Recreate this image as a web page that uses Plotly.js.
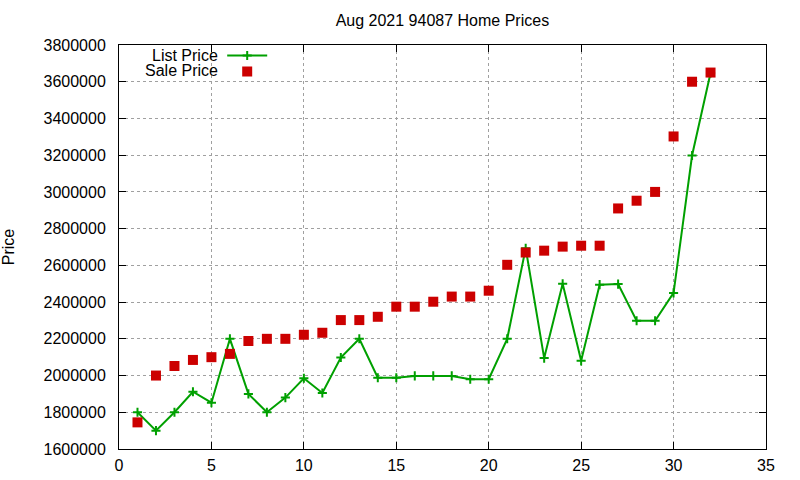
<!DOCTYPE html>
<html>
<head>
<meta charset="utf-8">
<script src="https://cdn.plot.ly/plotly-3.0.1.min.js"></script>
<style>
  body { margin: 0; background: #fff; }
  #chart { width: 800px; height: 480px; }
</style>
</head>
<body>
<div id="chart"></div>
<script>
// house number (sorted by sale price)
var houseIdx = [1, 2, 3, 4, 5, 6, 7, 8, 9, 10, 11, 12, 13, 14, 15, 16,
                17, 18, 19, 20, 21, 22, 23, 24, 25, 26, 27, 28, 29, 30, 31, 32];

var listPrice = [1800000, 1700000, 1800000, 1912000, 1852000, 2200000, 1900000, 1800000,
                 1880000, 1985000, 1905000, 2098000, 2200000, 1988000, 1988000, 1998000,
                 1998000, 1998000, 1980000, 1980000, 2200000, 2693000, 2095000, 2500000,
                 2080000, 2495000, 2498000, 2298000, 2298000, 2450000, 3198000, 3648000];

var salePrice = [1745000, 2000000, 2052000, 2085000, 2100000, 2118000, 2188000, 2200000,
                 2200000, 2222000, 2233000, 2302000, 2302000, 2320000, 2375000, 2375000,
                 2402000, 2430000, 2430000, 2462000, 2603000, 2670000, 2680000, 2702000,
                 2707000, 2707000, 2910000, 2952000, 3000000, 3302000, 3600000, 3650000];

var green = '#00a000';
var red = '#cc0000';
var fontFam = 'Liberation Sans, Arial, sans-serif';

var traceList = {
  x: houseIdx,
  y: listPrice,
  name: ' ',
  legend: 'legend',
  type: 'scatter',
  mode: 'lines+markers',
  line: {color: green, width: 2},
  marker: {symbol: 'cross-thin', size: 6.5, line: {color: green, width: 2}}
};

var traceSale = {
  x: houseIdx,
  y: salePrice,
  name: ' ',
  legend: 'legend2',
  type: 'scatter',
  mode: 'markers',
  marker: {symbol: 'square', size: 10, color: red}
};

var axisCommon = {
  showline: true,
  linecolor: '#000',
  linewidth: 1,
  mirror: 'ticks',
  ticks: 'inside',
  ticklen: 7,
  tickcolor: '#000',
  showgrid: true,
  gridcolor: '#a0a0a0',
  griddash: 'dot',
  gridwidth: 1,
  zeroline: false,
  tickfont: {family: fontFam, size: 16, color: '#000'}
};

var legendCommon = {
  xanchor: 'left', yanchor: 'top',
  bgcolor: 'rgba(0,0,0,0)',
  font: {family: fontFam, size: 12},
  itemwidth: 40
};

// key labels sit left of the samples, gnuplot style
var keyFont = {family: fontFam, size: 16, color: '#000'};

var layout = {
  width: 800,
  height: 480,
  margin: {l: 119, r: 34, t: 45, b: 31},
  paper_bgcolor: '#fff',
  plot_bgcolor: '#fff',
  font: {family: fontFam, size: 16, color: '#000'},
  title: {
    text: 'Aug 2021 94087 Home Prices',
    font: {family: fontFam, size: 16, color: '#000'},
    x: 0.553, xanchor: 'center',
    y: 0.958, yanchor: 'middle'
  },
  xaxis: Object.assign({}, axisCommon, {
    range: [0, 35],
    dtick: 5,
    tick0: 0,
    ticklabelstandoff: 2
  }),
  yaxis: Object.assign({}, axisCommon, {
    range: [1600000, 3800000],
    dtick: 200000,
    tick0: 1600000,
    tickformat: 'd',
    ticklabelstandoff: 9,
    title: {text: 'Price', font: {family: fontFam, size: 16, color: '#000'}, standoff: 27}
  }),
  showlegend: true,
  legend: Object.assign({}, legendCommon, {x: 0.1595, y: 1.0099}),
  legend2: Object.assign({}, legendCommon, {x: 0.1595, y: 0.970}),
  annotations: [
    {text: 'List Price', xref: 'paper', yref: 'paper', x: 0.1546, y: 0.975,
     xanchor: 'right', yanchor: 'middle', showarrow: false,
     height: 15, borderpad: 0, font: keyFont},
    {text: 'Sale Price', xref: 'paper', yref: 'paper', x: 0.1546, y: 0.936,
     xanchor: 'right', yanchor: 'middle', showarrow: false,
     height: 15, borderpad: 0, font: keyFont}
  ]
};

Plotly.newPlot('chart', [traceList, traceSale], layout, {displayModeBar: false, staticPlot: true});
</script>
</body>
</html>
